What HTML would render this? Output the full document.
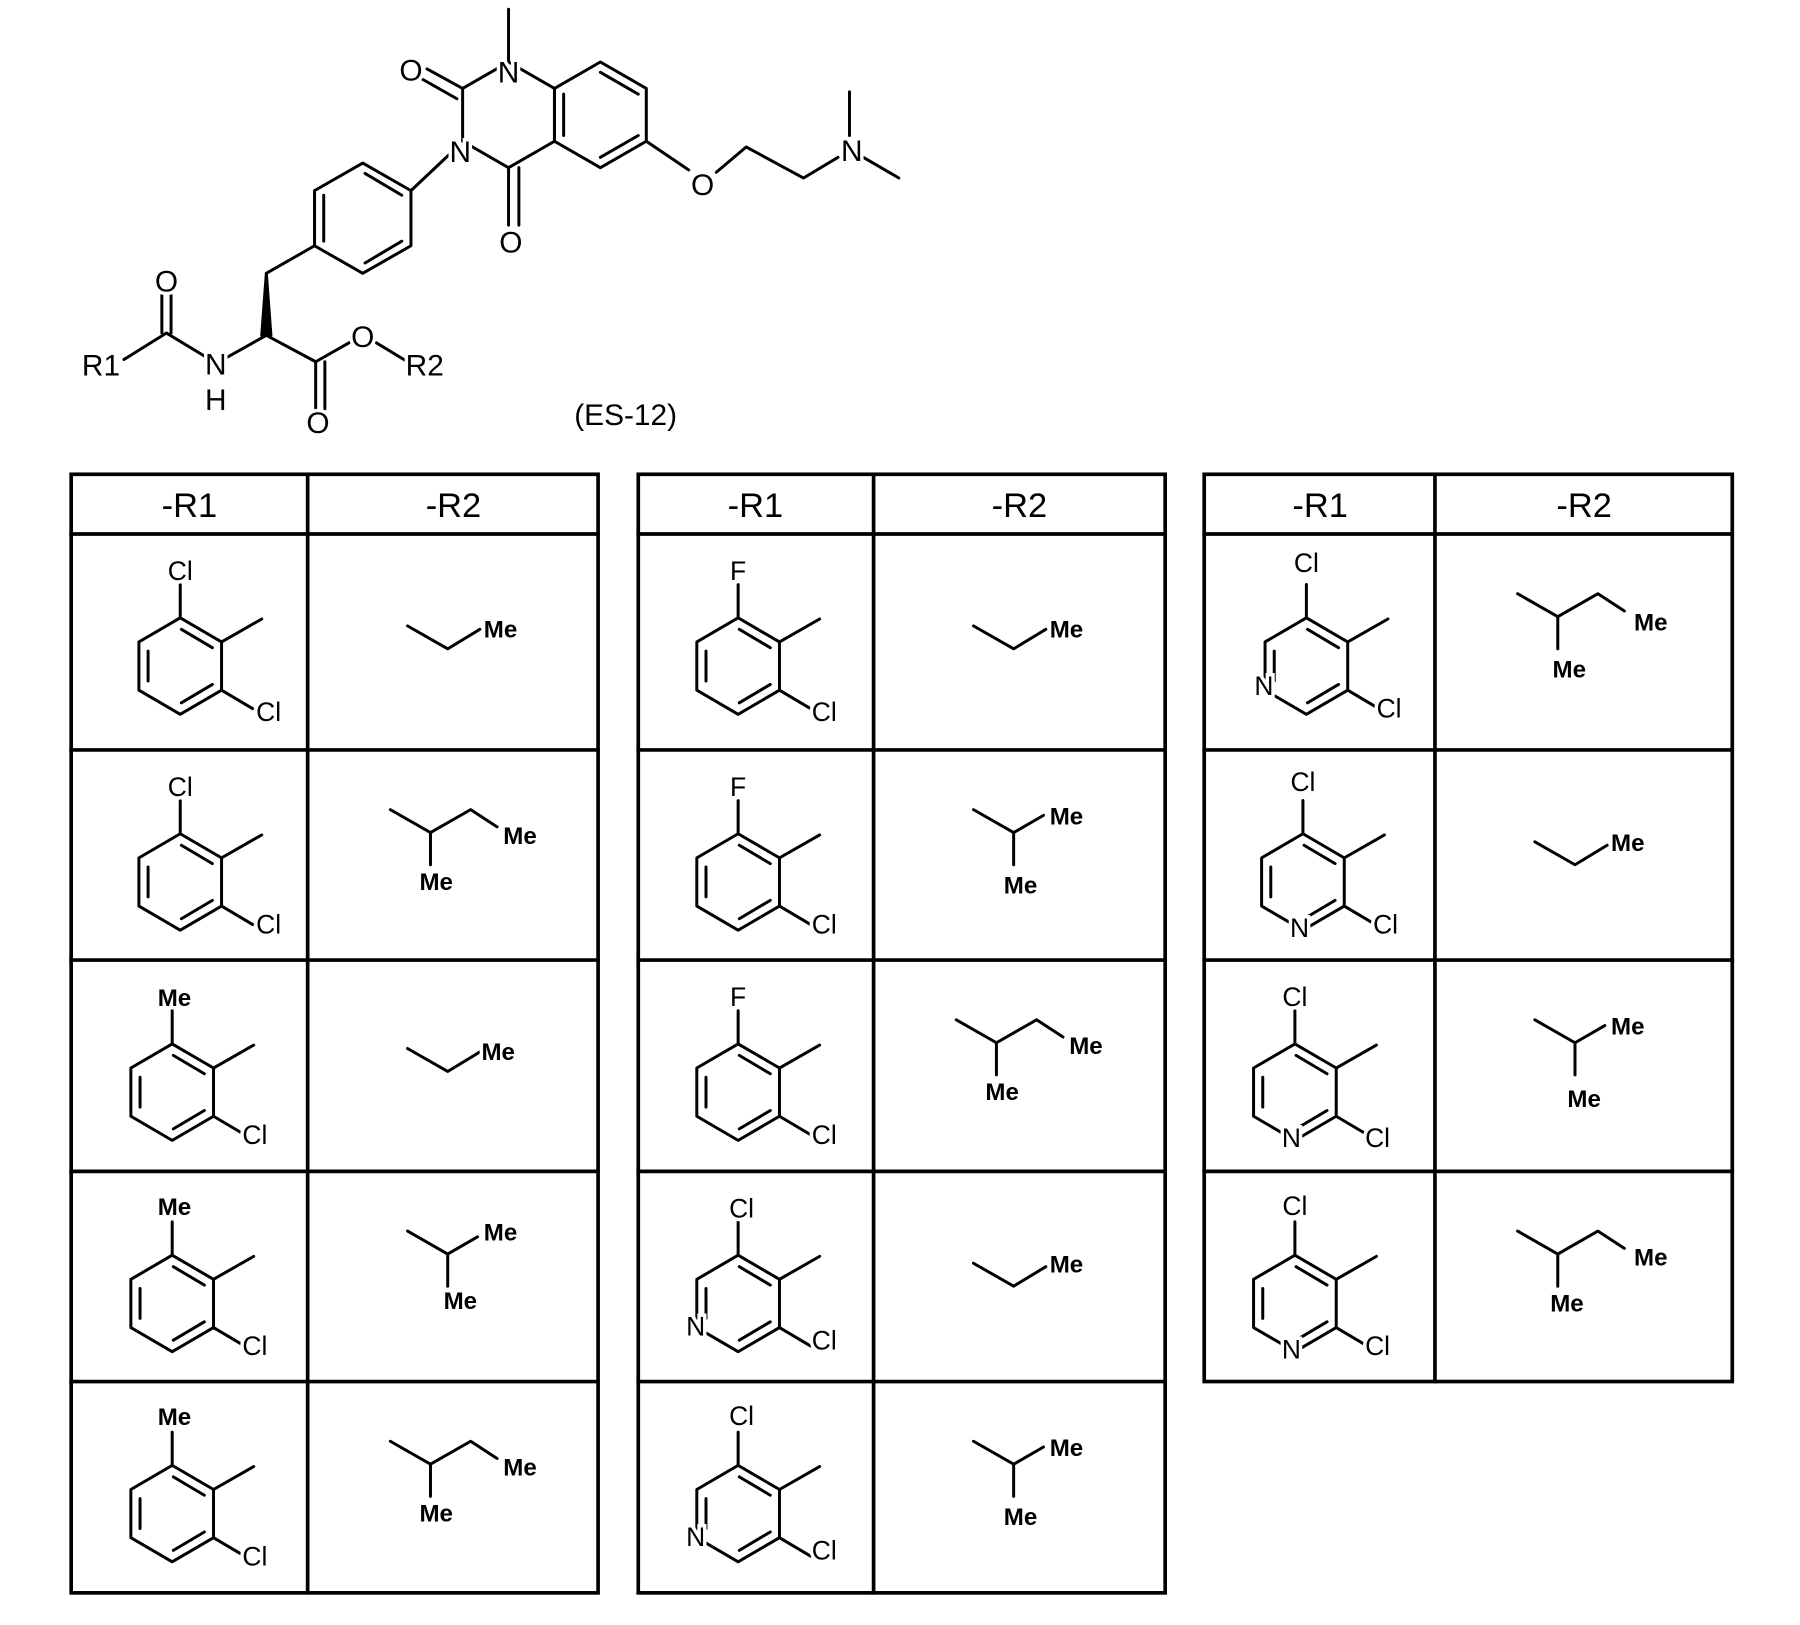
<!DOCTYPE html>
<html><head><meta charset="utf-8"><style>
html,body{margin:0;padding:0;background:#fff;}
svg{display:block;}
line,polyline,polygon,path{stroke:#000;stroke-width:2.6;fill:none;stroke-linecap:round;stroke-linejoin:round;}
.f{stroke-width:3.2;stroke-linecap:square;}
text{font-family:"Liberation Sans",sans-serif;font-size:26px;fill:#000;text-anchor:middle;paint-order:stroke;stroke:#fff;stroke-width:6px;}
.s{font-size:23px;}
.me{font-size:21px;font-weight:bold;}
.h{font-size:30px;stroke:none;}
</style></head><body>
<svg width="1800" height="1625" viewBox="0 0 1568 1415" preserveAspectRatio="none" xmlns="http://www.w3.org/2000/svg">
<g>
<line x1="443" y1="8" x2="443" y2="54"/>
<polygon points="443,54 483,77 483,123 443,146 403,123 403,77"/>
<line x1="403" y1="77" x2="372" y2="60"/><line x1="398" y1="86" x2="368" y2="69"/>
<line x1="443" y1="146" x2="443" y2="196"/><line x1="452" y1="146" x2="452" y2="196"/>
<polygon points="523,54 563,77 563,123 523,146 483,123 483,77"/>
<line x1="523" y1="63" x2="556" y2="82"/><line x1="491" y1="82" x2="491" y2="118"/><line x1="556" y1="118" x2="523" y2="137"/>
<line x1="563" y1="123" x2="600" y2="148"/>
<polyline points="624,150 650,128 700,155 730,137"/>
<line x1="740" y1="118" x2="740" y2="80"/><line x1="752" y1="137" x2="783" y2="155"/>
<polygon points="316,142 358,166 358,214 316,238 274,214 274,166"/>
<line x1="318" y1="151" x2="350" y2="170"/><line x1="282" y1="170" x2="282" y2="210"/><line x1="350" y1="210" x2="318" y2="229"/>
<line x1="358" y1="166" x2="393" y2="133"/>
<line x1="274" y1="214" x2="232" y2="238"/>
<path d="M232,238 L228,292 L236,292 Z" style="fill:#000"/>
<line x1="232" y1="292" x2="198" y2="311"/>
<line x1="232" y1="292" x2="275" y2="315"/>
<line x1="275" y1="315" x2="275" y2="356"/><line x1="283" y1="315" x2="283" y2="356"/>
<line x1="275" y1="315" x2="305" y2="298"/><line x1="327" y1="298" x2="355" y2="315"/>
<line x1="178" y1="310" x2="145" y2="290"/>
<line x1="141" y1="290" x2="141" y2="257"/><line x1="149" y1="290" x2="149" y2="257"/>
<line x1="145" y1="290" x2="108" y2="313"/>
<text x="443" y="72">N</text><text x="358" y="70">O</text><text x="401" y="141">N</text>
<text x="445" y="220">O</text><text x="612" y="170">O</text><text x="742" y="140">N</text>
<text x="145" y="254">O</text><text x="188" y="326">N</text><text x="188" y="357">H</text>
<text x="277" y="377">O</text><text x="316" y="302">O</text>
<text x="88" y="327">R1</text><text x="370" y="327">R2</text>
<text x="545" y="370">(ES-12)</text>
</g>

<g>
<rect x="62" y="413" width="459" height="974" style="stroke:#000;stroke-width:3.2;fill:none"/>
<line class="f" x1="268" y1="413" x2="268" y2="1387"/>
<line class="f" x1="62" y1="465" x2="521" y2="465"/><line class="f" x1="62" y1="653" x2="521" y2="653"/><line class="f" x1="62" y1="836" x2="521" y2="836"/><line class="f" x1="62" y1="1020" x2="521" y2="1020"/><line class="f" x1="62" y1="1203" x2="521" y2="1203"/>
<rect x="556" y="413" width="459" height="974" style="stroke:#000;stroke-width:3.2;fill:none"/>
<line class="f" x1="761" y1="413" x2="761" y2="1387"/>
<line class="f" x1="556" y1="465" x2="1015" y2="465"/><line class="f" x1="556" y1="653" x2="1015" y2="653"/><line class="f" x1="556" y1="836" x2="1015" y2="836"/><line class="f" x1="556" y1="1020" x2="1015" y2="1020"/><line class="f" x1="556" y1="1203" x2="1015" y2="1203"/>
<rect x="1049" y="413" width="460" height="790" style="stroke:#000;stroke-width:3.2;fill:none"/>
<line class="f" x1="1250" y1="413" x2="1250" y2="1203"/>
<line class="f" x1="1049" y1="465" x2="1509" y2="465"/><line class="f" x1="1049" y1="653" x2="1509" y2="653"/><line class="f" x1="1049" y1="836" x2="1509" y2="836"/><line class="f" x1="1049" y1="1020" x2="1509" y2="1020"/>
<text class="h" x="165" y="450">-R1</text><text class="h" x="395" y="450">-R2</text>
<text class="h" x="658" y="450">-R1</text><text class="h" x="888" y="450">-R2</text>
<text class="h" x="1150" y="450">-R1</text><text class="h" x="1380" y="450">-R2</text>
</g>

<g transform="translate(62,465)"><polygon points="95,73 131,94 131,136 95,157 59,136 59,94"/><line x1="96" y1="83" x2="123" y2="99"/><line x1="123" y1="131" x2="96" y2="147"/><line x1="67" y1="128" x2="67" y2="102"/><line x1="95" y1="73" x2="95" y2="44"/><line x1="131" y1="94" x2="166" y2="74"/><line x1="131" y1="136" x2="158" y2="152"/><text class="s" x="95" y="40">Cl</text><text class="s" x="172" y="163">Cl</text></g>
<g transform="translate(62,653)"><polygon points="95,73 131,94 131,136 95,157 59,136 59,94"/><line x1="96" y1="83" x2="123" y2="99"/><line x1="123" y1="131" x2="96" y2="147"/><line x1="67" y1="128" x2="67" y2="102"/><line x1="95" y1="73" x2="95" y2="44"/><line x1="131" y1="94" x2="166" y2="74"/><line x1="131" y1="136" x2="158" y2="152"/><text class="s" x="95" y="40">Cl</text><text class="s" x="172" y="160">Cl</text></g>
<g transform="translate(55,836)"><polygon points="95,73 131,94 131,136 95,157 59,136 59,94"/><line x1="96" y1="83" x2="123" y2="99"/><line x1="123" y1="131" x2="96" y2="147"/><line x1="67" y1="128" x2="67" y2="102"/><line x1="95" y1="73" x2="95" y2="44"/><line x1="131" y1="94" x2="166" y2="74"/><line x1="131" y1="136" x2="158" y2="152"/><text class="me" x="97" y="40">Me</text><text class="s" x="167" y="160">Cl</text></g>
<g transform="translate(55,1020)"><polygon points="95,73 131,94 131,136 95,157 59,136 59,94"/><line x1="96" y1="83" x2="123" y2="99"/><line x1="123" y1="131" x2="96" y2="147"/><line x1="67" y1="128" x2="67" y2="102"/><line x1="95" y1="73" x2="95" y2="44"/><line x1="131" y1="94" x2="166" y2="74"/><line x1="131" y1="136" x2="158" y2="152"/><text class="me" x="97" y="38">Me</text><text class="s" x="167" y="160">Cl</text></g>
<g transform="translate(55,1203)"><polygon points="95,73 131,94 131,136 95,157 59,136 59,94"/><line x1="96" y1="83" x2="123" y2="99"/><line x1="123" y1="131" x2="96" y2="147"/><line x1="67" y1="128" x2="67" y2="102"/><line x1="95" y1="73" x2="95" y2="44"/><line x1="131" y1="94" x2="166" y2="74"/><line x1="131" y1="136" x2="158" y2="152"/><text class="me" x="97" y="38">Me</text><text class="s" x="167" y="160">Cl</text></g>

<g transform="translate(548,465)"><polygon points="95,73 131,94 131,136 95,157 59,136 59,94"/><line x1="96" y1="83" x2="123" y2="99"/><line x1="123" y1="131" x2="96" y2="147"/><line x1="67" y1="128" x2="67" y2="102"/><line x1="95" y1="73" x2="95" y2="44"/><line x1="131" y1="94" x2="166" y2="74"/><line x1="131" y1="136" x2="158" y2="152"/><text class="s" x="95" y="40">F</text><text class="s" x="170" y="163">Cl</text></g>
<g transform="translate(548,653)"><polygon points="95,73 131,94 131,136 95,157 59,136 59,94"/><line x1="96" y1="83" x2="123" y2="99"/><line x1="123" y1="131" x2="96" y2="147"/><line x1="67" y1="128" x2="67" y2="102"/><line x1="95" y1="73" x2="95" y2="44"/><line x1="131" y1="94" x2="166" y2="74"/><line x1="131" y1="136" x2="158" y2="152"/><text class="s" x="95" y="40">F</text><text class="s" x="170" y="160">Cl</text></g>
<g transform="translate(548,836)"><polygon points="95,73 131,94 131,136 95,157 59,136 59,94"/><line x1="96" y1="83" x2="123" y2="99"/><line x1="123" y1="131" x2="96" y2="147"/><line x1="67" y1="128" x2="67" y2="102"/><line x1="95" y1="73" x2="95" y2="44"/><line x1="131" y1="94" x2="166" y2="74"/><line x1="131" y1="136" x2="158" y2="152"/><text class="s" x="95" y="40">F</text><text class="s" x="170" y="160">Cl</text></g>
<g transform="translate(548,1020)"><polygon points="95,73 131,94 131,136 95,157 59,136 59,94"/><line x1="96" y1="83" x2="123" y2="99"/><line x1="123" y1="131" x2="96" y2="147"/><line x1="67" y1="128" x2="67" y2="102"/><line x1="95" y1="73" x2="95" y2="44"/><line x1="131" y1="94" x2="166" y2="74"/><line x1="131" y1="136" x2="158" y2="152"/><text class="s" x="98" y="40">Cl</text><text class="s" x="170" y="155">Cl</text><text class="s" x="58" y="143">N</text></g>
<g transform="translate(548,1203)"><polygon points="95,73 131,94 131,136 95,157 59,136 59,94"/><line x1="96" y1="83" x2="123" y2="99"/><line x1="123" y1="131" x2="96" y2="147"/><line x1="67" y1="128" x2="67" y2="102"/><line x1="95" y1="73" x2="95" y2="44"/><line x1="131" y1="94" x2="166" y2="74"/><line x1="131" y1="136" x2="158" y2="152"/><text class="s" x="98" y="38">Cl</text><text class="s" x="170" y="155">Cl</text><text class="s" x="58" y="143">N</text></g>

<g transform="translate(1043,465)"><polygon points="95,73 131,94 131,136 95,157 59,136 59,94"/><line x1="96" y1="83" x2="123" y2="99"/><line x1="123" y1="131" x2="96" y2="147"/><line x1="67" y1="128" x2="67" y2="102"/><line x1="95" y1="73" x2="95" y2="44"/><line x1="131" y1="94" x2="166" y2="74"/><line x1="131" y1="136" x2="158" y2="152"/><text class="s" x="95" y="33">Cl</text><text class="s" x="167" y="160">Cl</text><text class="s" x="58" y="140">N</text></g>
<g transform="translate(1040,653)"><polygon points="95,73 131,94 131,136 95,157 59,136 59,94"/><line x1="96" y1="83" x2="123" y2="99"/><line x1="123" y1="131" x2="96" y2="147"/><line x1="67" y1="128" x2="67" y2="102"/><line x1="95" y1="73" x2="95" y2="44"/><line x1="131" y1="94" x2="166" y2="74"/><line x1="131" y1="136" x2="158" y2="152"/><text class="s" x="95" y="36">Cl</text><text class="s" x="167" y="160">Cl</text><text class="s" x="92" y="163">N</text></g>
<g transform="translate(1033,836)"><polygon points="95,73 131,94 131,136 95,157 59,136 59,94"/><line x1="96" y1="83" x2="123" y2="99"/><line x1="123" y1="131" x2="96" y2="147"/><line x1="67" y1="128" x2="67" y2="102"/><line x1="95" y1="73" x2="95" y2="44"/><line x1="131" y1="94" x2="166" y2="74"/><line x1="131" y1="136" x2="158" y2="152"/><text class="s" x="95" y="40">Cl</text><text class="s" x="167" y="163">Cl</text><text class="s" x="92" y="163">N</text></g>
<g transform="translate(1033,1020)"><polygon points="95,73 131,94 131,136 95,157 59,136 59,94"/><line x1="96" y1="83" x2="123" y2="99"/><line x1="123" y1="131" x2="96" y2="147"/><line x1="67" y1="128" x2="67" y2="102"/><line x1="95" y1="73" x2="95" y2="44"/><line x1="131" y1="94" x2="166" y2="74"/><line x1="131" y1="136" x2="158" y2="152"/><text class="s" x="95" y="38">Cl</text><text class="s" x="167" y="160">Cl</text><text class="s" x="92" y="163">N</text></g>

<g transform="translate(268,465)"><polyline points="87,80 122,100 150,83"/><text class="me" x="168" y="90">Me</text></g>
<g transform="translate(268,653)"><polyline points="72,52 107,72 142,52 165,67"/><line x1="107" y1="72" x2="107" y2="100"/><text class="me" x="185" y="82">Me</text><text class="me" x="112" y="122">Me</text></g>
<g transform="translate(268,836)"><polyline points="87,77 122,97 150,80"/><text class="me" x="166" y="87">Me</text></g>
<g transform="translate(268,1020)"><polyline points="87,52 122,72 148,57"/><line x1="122" y1="72" x2="122" y2="100"/><text class="me" x="168" y="60">Me</text><text class="me" x="133" y="120">Me</text></g>
<g transform="translate(268,1203)"><polyline points="72,52 107,72 142,52 165,67"/><line x1="107" y1="72" x2="107" y2="100"/><text class="me" x="185" y="82">Me</text><text class="me" x="112" y="122">Me</text></g>

<g transform="translate(761,465)"><polyline points="87,80 122,100 150,83"/><text class="me" x="168" y="90">Me</text></g>
<g transform="translate(761,653)"><polyline points="87,52 122,72 148,57"/><line x1="122" y1="72" x2="122" y2="100"/><text class="me" x="168" y="65">Me</text><text class="me" x="128" y="125">Me</text></g>
<g transform="translate(761,836)"><polyline points="72,52 107,72 142,52 165,67"/><line x1="107" y1="72" x2="107" y2="100"/><text class="me" x="185" y="82">Me</text><text class="me" x="112" y="122">Me</text></g>
<g transform="translate(761,1020)"><polyline points="87,80 122,100 150,83"/><text class="me" x="168" y="88">Me</text></g>
<g transform="translate(761,1203)"><polyline points="87,52 122,72 148,57"/><line x1="122" y1="72" x2="122" y2="100"/><text class="me" x="168" y="65">Me</text><text class="me" x="128" y="125">Me</text></g>

<g transform="translate(1250,465)"><polyline points="72,52 107,72 142,52 165,67"/><line x1="107" y1="72" x2="107" y2="100"/><text class="me" x="188" y="84">Me</text><text class="me" x="117" y="125">Me</text></g>
<g transform="translate(1250,653)"><polyline points="87,80 122,100 150,83"/><text class="me" x="168" y="88">Me</text></g>
<g transform="translate(1250,836)"><polyline points="87,52 122,72 148,57"/><line x1="122" y1="72" x2="122" y2="100"/><text class="me" x="168" y="65">Me</text><text class="me" x="130" y="128">Me</text></g>
<g transform="translate(1250,1020)"><polyline points="72,52 107,72 142,52 165,67"/><line x1="107" y1="72" x2="107" y2="100"/><text class="me" x="188" y="82">Me</text><text class="me" x="115" y="122">Me</text></g>
</svg>
</body></html>
